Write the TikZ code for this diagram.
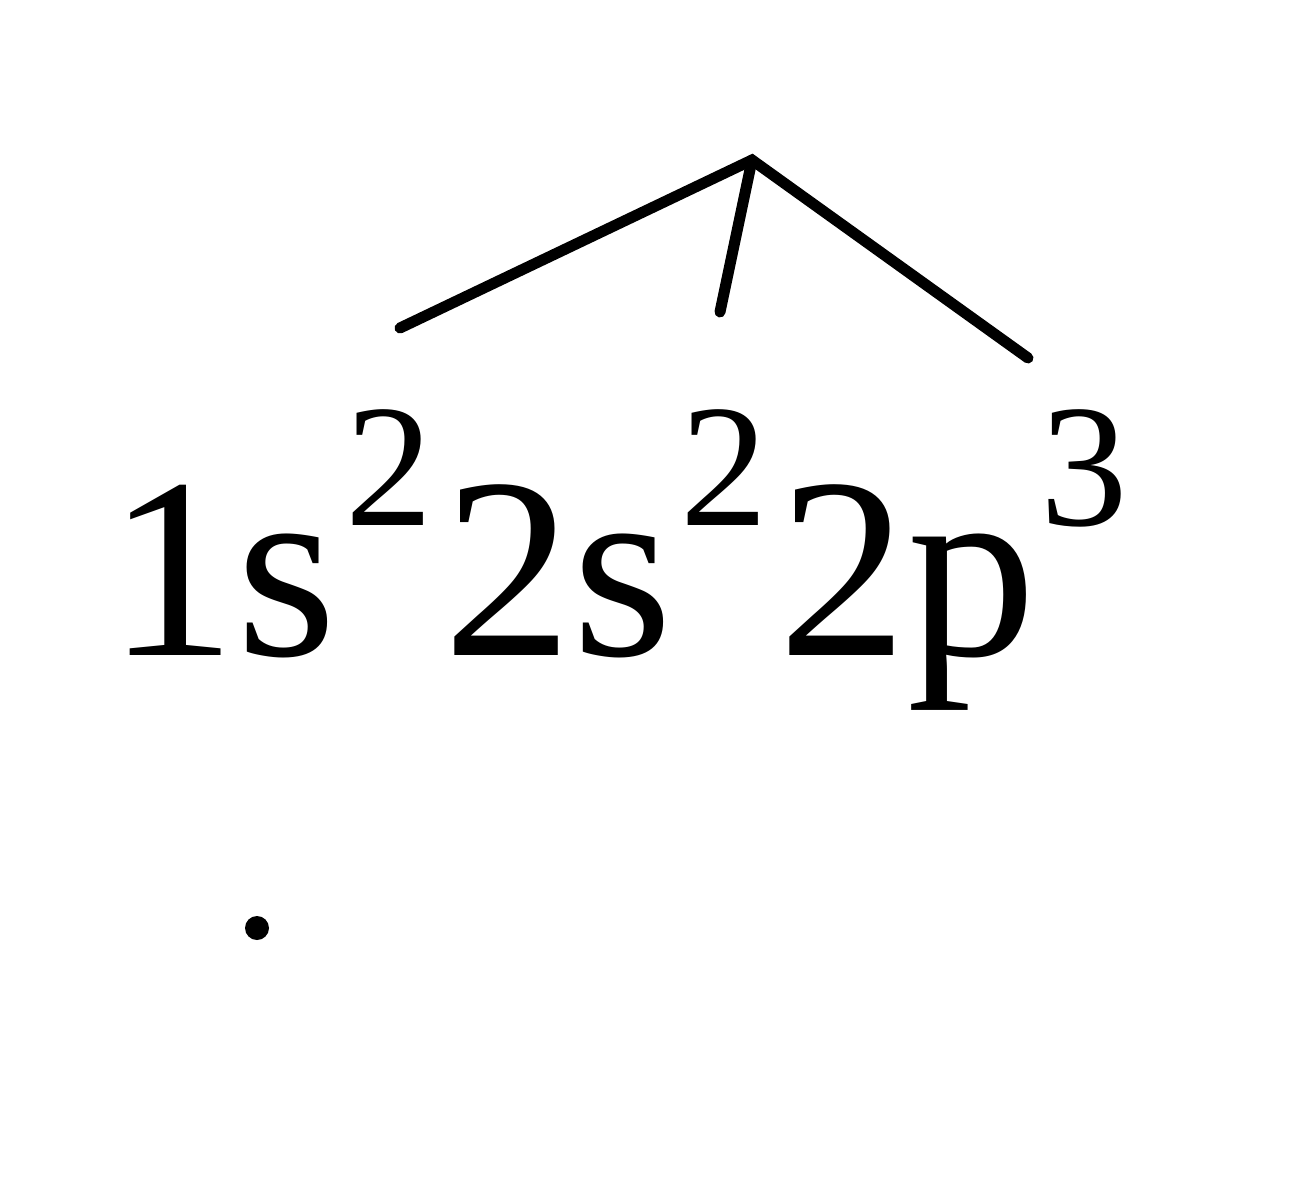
\documentclass[tikz,border=0pt]{standalone}
\usepackage{fontspec}
\setmainfont{Liberation Serif}
\begin{document}
\begin{tikzpicture}[x=1pt,y=-1pt,
  big/.style={inner sep=0pt,outer sep=0pt,anchor=base west,font=\fontsize{258}{300}\selectfont},
  sup/.style={inner sep=0pt,outer sep=0pt,anchor=base west,font=\fontsize{175}{200}\selectfont},
  stroke/.style={line width=11pt,line cap=round}]
\useasboundingbox (0,0) rectangle (1291,1200);
\node[big] (t1) at (107,655) {1s};
\node[sup] (s1) at (345,525) {2};
\node[big] (t2) at (443,655) {2s};
\node[sup] (s2) at (680,525) {2};
\node[big] (t3) at (778,655) {2p};
\node[sup] (s3) at (1040,525) {3};
\coordinate (apex) at (752,160);
\coordinate (e1) at (400,328);
\coordinate (e2) at (720,312);
\coordinate (e3) at (1028,358);
\draw[stroke] (e1) -- (apex) -- (e3);
\draw[stroke] (e2) -- (apex);
\fill (257,928) circle (12);
\end{tikzpicture}
\end{document}
